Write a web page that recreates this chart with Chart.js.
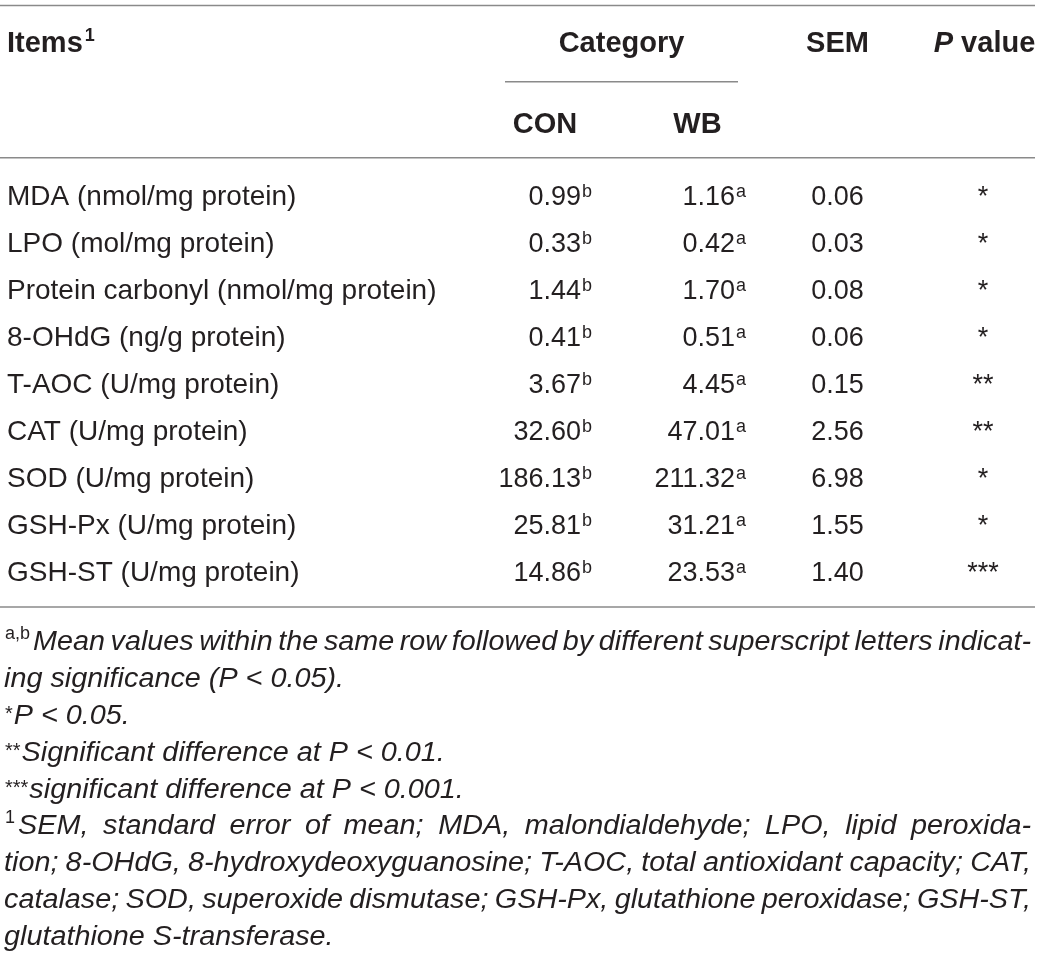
<!DOCTYPE html>
<html>
<head>
<meta charset="utf-8">
<title>Oxidative stress indices, CON vs WB</title>
<script src="https://cdn.jsdelivr.net/npm/chart.js@4.4.0/dist/chart.umd.min.js"></script>
<style>
  html, body { margin: 0; padding: 0; background: #fff; }
  #wrap { width: 1040px; height: 961px; position: relative; }
</style>
</head>
<body>
<div id="wrap"><canvas id="tableChart"></canvas></div>
<script>
// table values
const items = [
  'MDA (nmol/mg protein)',
  'LPO (mol/mg protein)',
  'Protein carbonyl (nmol/mg protein)',
  '8-OHdG (ng/g protein)',
  'T-AOC (U/mg protein)',
  'CAT (U/mg protein)',
  'SOD (U/mg protein)',
  'GSH-Px (U/mg protein)',
  'GSH-ST (U/mg protein)'
];
const conValues = [0.99, 0.33, 1.44, 0.41, 3.67, 32.60, 186.13, 25.81, 14.86];
const wbValues = [1.16, 0.42, 1.70, 0.51, 4.45, 47.01, 211.32, 31.21, 23.53];
const semValues = [0.06, 0.03, 0.08, 0.06, 0.15, 2.56, 6.98, 1.55, 1.40];
const pStars = ['*', '*', '*', '*', '**', '**', '*', '*', '***'];
const conSup = 'b';
const wbSup = 'a';
const groupTitle = 'Category';
const groupLabels = ['CON', 'WB'];

const footSups = ['a,b', '', '*', '**', '***', '1', '', '', ''];
const footLines = [
  'Mean values within the same row followed by different superscript letters indicat-',
  'ing significance (P < 0.05).',
  'P < 0.05.',
  'Significant difference at P < 0.01.',
  'significant difference at P < 0.001.',
  'SEM, standard error of mean; MDA, malondialdehyde; LPO, lipid peroxida-',
  'tion; 8-OHdG, 8-hydroxydeoxyguanosine; T-AOC, total antioxidant capacity; CAT,',
  'catalase; SOD, superoxide dismutase; GSH-Px, glutathione peroxidase; GSH-ST,',
  'glutathione S-transferase.'
];
const footJustified = [true, false, false, false, false, true, true, true, false];

// layout: x in canvas px, y in row units (one unit = one data row)
const ROW_PX = 47, FIRST_ROW_PX = 205, H = 961, W = 1040;
const Y_MIN = -FIRST_ROW_PX / ROW_PX;
const Y_MAX = (H - FIRST_ROW_PX) / ROW_PX;
const L = {
  topRule: -4.245, head1: -3.245, catRule: -2.623, head2: -1.538,
  midRule: -1.006, bottomRule: 8.553, footStart: 9.468, footStep: 0.785
};
const COLX = { item: 7, con: 581, wb: 735, sem: 837.5, p: 983 };
const FAMILY = "'Liberation Sans', Arial, sans-serif";
const INK = '#231f20';
const RULE = '#8a8a8a';

function pts(xpos) {
  return items.map((_, i) => ({ x: xpos, y: i }));
}

const datasets = [
  { label: 'Items', data: pts(COLX.item), cellText: items, cellAlign: 'left', cellFont: '28px ' + FAMILY },
  { label: 'CON', data: pts(COLX.con), cellText: conValues.map(v => v.toFixed(2)), cellSup: conSup, cellAlign: 'right', cellFont: '27px ' + FAMILY },
  { label: 'WB', data: pts(COLX.wb), cellText: wbValues.map(v => v.toFixed(2)), cellSup: wbSup, cellAlign: 'right', cellFont: '27px ' + FAMILY },
  { label: 'SEM', data: pts(COLX.sem), cellText: semValues.map(v => v.toFixed(2)), cellAlign: 'center', cellFont: '27px ' + FAMILY },
  { label: 'P value', data: pts(COLX.p), cellText: pStars, cellAlign: 'center', cellFont: '27px ' + FAMILY }
];

function hline(ctx, x, y, x0, x1, v) {
  const py = y.getPixelForValue(v);
  ctx.beginPath();
  ctx.moveTo(x.getPixelForValue(x0), py);
  ctx.lineTo(x.getPixelForValue(x1), py);
  ctx.stroke();
}

function drawWords(ctx, text, xStart, xEnd, base, hs, justify) {
  const words = text.split(' ');
  const space = ctx.measureText(' ').width * hs;
  const ws = words.map(w => ctx.measureText(w).width * hs);
  const sum = ws.reduce((a, b) => a + b, 0);
  let gap = space, k = 1;
  if (justify && words.length > 1) {
    gap = (xEnd - xStart - sum) / (words.length - 1);
    if (gap < space * 0.7) {
      gap = space * 0.7;
      k = (xEnd - xStart - gap * (words.length - 1)) / sum;
    }
  }
  let cx = xStart;
  words.forEach((w, i) => {
    ctx.save();
    ctx.translate(cx, base);
    ctx.scale(hs * k, 1);
    ctx.fillText(w, 0, 0);
    ctx.restore();
    cx += ws[i] * k + gap;
  });
  return cx;
}

const tablePlugin = {
  id: 'tableText',
  afterDatasetsDraw(chart) {
    const { ctx, scales: { x, y } } = chart;
    ctx.save();
    ctx.textBaseline = 'alphabetic';

    // rules
    ctx.strokeStyle = RULE;
    ctx.lineWidth = 1.5;
    hline(ctx, x, y, 0, 1035, L.topRule);
    hline(ctx, x, y, 505, 738, L.catRule);
    hline(ctx, x, y, 0, 1035, L.midRule);
    hline(ctx, x, y, 0, 1035, L.bottomRule);

    // header
    ctx.fillStyle = INK;
    const h1 = y.getPixelForValue(L.head1);
    const h2 = y.getPixelForValue(L.head2);
    ctx.font = 'bold 29px ' + FAMILY;
    ctx.textAlign = 'left';
    ctx.fillText('Items', x.getPixelForValue(COLX.item), h1);
    const iw = ctx.measureText('Items').width;
    ctx.font = 'bold 18px ' + FAMILY;
    ctx.fillText('1', x.getPixelForValue(COLX.item) + iw + 2, h1 - 11);

    ctx.font = 'bold 29px ' + FAMILY;
    ctx.textAlign = 'center';
    ctx.fillText(groupTitle, x.getPixelForValue(621.5), h1);
    ctx.fillText('SEM', x.getPixelForValue(COLX.sem), h1);
    ctx.fillText(groupLabels[0], x.getPixelForValue(545), h2);
    ctx.fillText(groupLabels[1], x.getPixelForValue(697.5), h2);

    // "P value" with italic P
    ctx.textAlign = 'left';
    ctx.font = 'italic bold 29px ' + FAMILY;
    const pw = ctx.measureText('P').width;
    ctx.font = 'bold 29px ' + FAMILY;
    const vw = ctx.measureText(' value').width;
    const px0 = x.getPixelForValue(984.5) - (pw + vw) / 2;
    ctx.font = 'italic bold 29px ' + FAMILY;
    ctx.fillText('P', px0, h1);
    ctx.font = 'bold 29px ' + FAMILY;
    ctx.fillText(' value', px0 + pw, h1);

    // body cells, placed at each point of the datasets
    chart.data.datasets.forEach((ds, di) => {
      const meta = chart.getDatasetMeta(di);
      meta.data.forEach((pt, i) => {
        ctx.font = ds.cellFont;
        ctx.textAlign = ds.cellAlign;
        ctx.fillStyle = INK;
        ctx.fillText(ds.cellText[i], pt.x, pt.y);
        if (ds.cellSup) {
          ctx.font = '18px ' + FAMILY;
          ctx.textAlign = 'left';
          ctx.fillText(ds.cellSup, pt.x + 1, pt.y - 8);
        }
      });
    });

    // footnotes
    ctx.textAlign = 'left';
    ctx.font = 'italic 27px ' + FAMILY;
    const hs = Math.min(1.12, Math.max(0.9, 340 / ctx.measureText('ing significance (P < 0.05).').width));
    footLines.forEach((line, i) => {
      const base = y.getPixelForValue(L.footStart + i * L.footStep);
      let x0 = 4;
      const sup = footSups[i];
      if (sup) {
        const star = sup.indexOf('*') === 0;
        ctx.font = (star ? '20px ' : '18px ') + FAMILY;
        ctx.fillText(sup, x.getPixelForValue(5), base - (star ? 4 : 11));
        x0 = 5 + ctx.measureText(sup).width + (star ? 1 : 3);
      }
      ctx.font = 'italic 27px ' + FAMILY;
      drawWords(ctx, line, x.getPixelForValue(x0), x.getPixelForValue(1031), base, hs, footJustified[i]);
    });

    ctx.restore();
  }
};

new Chart(document.getElementById('tableChart').getContext('2d'), {
  type: 'scatter',
  data: { datasets },
  options: {
    responsive: true,
    maintainAspectRatio: false,
    animation: false,
    layout: { padding: 0 },
    elements: { point: { radius: 0, hoverRadius: 0 } },
    plugins: { legend: { display: false }, tooltip: { enabled: false } },
    scales: {
      x: { type: 'linear', display: false, min: 0, max: W },
      y: { type: 'linear', display: false, reverse: true, min: Y_MIN, max: Y_MAX }
    }
  },
  plugins: [tablePlugin]
});
</script>
</body>
</html>
